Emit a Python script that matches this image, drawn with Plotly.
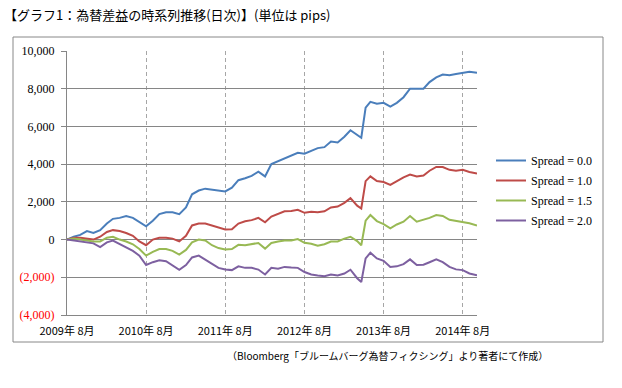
import plotly.graph_objects as go

dates = [
    "2009-08-01", "2009-09-01", "2009-10-01", "2009-11-01", "2009-12-01",
    "2010-01-01", "2010-02-01", "2010-03-01", "2010-04-01", "2010-05-01",
    "2010-06-01", "2010-07-01", "2010-08-01", "2010-09-01", "2010-10-01",
    "2010-11-01", "2010-12-01", "2011-01-01", "2011-02-01", "2011-03-01",
    "2011-04-01", "2011-05-01", "2011-06-01", "2011-07-01", "2011-08-01",
    "2011-09-01", "2011-10-01", "2011-11-01", "2011-12-01", "2012-01-01",
    "2012-02-01", "2012-03-01", "2012-04-01", "2012-05-01", "2012-06-01",
    "2012-07-01", "2012-08-01", "2012-09-01", "2012-10-01", "2012-11-01",
    "2012-12-01", "2013-01-01", "2013-02-01", "2013-03-01", "2013-04-01",
    "2013-04-20", "2013-05-10",
    "2013-06-01", "2013-07-01", "2013-08-01", "2013-09-01", "2013-10-01",
    "2013-11-01", "2013-12-01", "2014-01-01", "2014-02-01", "2014-03-01",
    "2014-04-01", "2014-05-01", "2014-06-01", "2014-07-01", "2014-08-01",
    "2014-09-01", "2014-10-06",
]

spread_00 = [0, 150, 250, 450, 350, 500, 850, 1100, 1150, 1250,
             1150, 950, 700, 1000, 1350, 1450, 1450, 1350, 1700, 2400,
             2600, 2700, 2650, 2600, 2550, 2750, 3150, 3250, 3380, 3600,
             3350, 4000, 4150, 4300, 4450, 4600, 4550, 4700, 4850, 4900,
             5200, 5150, 5450, 5800, 5550,
             5400, 7000,
             7300, 7200, 7250, 7050, 7250, 7550, 8000, 8000, 8000, 8350,
             8600, 8750, 8720, 8780, 8850, 8900, 8850]

spread_10 = [0, 100, 100, 50, 0, 150, 400, 500, 450, 350,
             200, -100, -300, 0, 100, 100, 50, -100, 200, 750,
             850, 850, 750, 650, 530, 550, 850, 970, 1030, 1150,
             920, 1220, 1350, 1500, 1520, 1580, 1420, 1480, 1450, 1500,
             1700, 1750, 1950, 2200, 1800,
             1650, 3100,
             3350, 3100, 3050, 2900, 3100, 3300, 3450, 3350, 3400, 3650,
             3850, 3850, 3700, 3650, 3700, 3580, 3500]

spread_15 = [0, 50, 0, -50, -100, -100, 100, 150, 0, -100,
             -250, -500, -850, -650, -500, -500, -600, -800, -550, -150,
             0, -50, -300, -450, -530, -500, -280, -300, -250, -180,
             -480, -180, -100, -50, -50, 30, -170, -220, -330, -250,
             -100, -100, 50, 150, -80,
             -300, 1000,
             1300, 980, 820, 600, 800, 950, 1250, 950, 1050, 1150,
             1300, 1250, 1050, 1000, 950, 870, 750]

spread_20 = [0, -50, -100, -150, -200, -400, -150, -50, -250, -400,
             -600, -850, -1350, -1200, -1100, -1150, -1350, -1600, -1350, -950,
             -850, -1050, -1300, -1500, -1590, -1620, -1420, -1500, -1500, -1590,
             -1850, -1500, -1550, -1450, -1480, -1500, -1720, -1850, -1900, -1940,
             -1850, -1900, -1800, -1600, -2050,
             -2250, -1000,
             -700, -1000, -1130, -1450, -1420, -1300, -1050, -1350, -1330, -1200,
             -1050, -1200, -1450, -1580, -1620, -1800, -1900]

series_names = ["Spread = 0.0", "Spread = 1.0", "Spread = 1.5", "Spread = 2.0"]
series_values = [spread_00, spread_10, spread_15, spread_20]
series_colors = ["#4A7EBB", "#BE4B48", "#98B954", "#7D60A0"]

y_tick_vals = [-4000, -2000, 0, 2000, 4000, 6000, 8000, 10000]
y_tick_text = ["<span style='color:#FF0000'>(4,000)</span>",
               "<span style='color:#FF0000'>(2,000)</span>",
               "0", "2,000", "4,000", "6,000", "8,000", "10,000"]

x_tick_vals = ["2009-08-01", "2010-08-01", "2011-08-01",
               "2012-08-01", "2013-08-01", "2014-08-01"]
x_tick_text = ["2009年 8月", "2010年 8月", "2011年 8月",
               "2012年 8月", "2013年 8月", "2014年 8月"]

title_text = "【グラフ1：為替差益の時系列推移(日次)】(単位は pips)"
source_text = "（Bloomberg「ブルームバーグ為替フィクシング」より著者にて作成）"

fig = go.Figure()
for name, vals, color in zip(series_names, series_values, series_colors):
    fig.add_trace(go.Scatter(
        x=dates, y=vals, mode="lines", name=name, legendgroup=name,
        line=dict(color=color, width=2),
    ))

jp_font = "Noto Sans CJK JP"
serif_font = "Liberation Serif, Times New Roman, DejaVu Serif, serif"

fig.update_layout(
    width=622, height=388,
    margin=dict(l=67, r=145, t=51, b=73),
    paper_bgcolor="white", plot_bgcolor="white",
    showlegend=True,
    legend=dict(
        x=(491 - 67) / 410, xanchor="left",
        y=(315 - 146) / 264, yanchor="top",
        font=dict(family=serif_font, size=12, color="black"),
        bgcolor="rgba(0,0,0,0)", tracegroupgap=1,
    ),
    xaxis=dict(
        type="date", range=["2009-08-01", "2014-10-06"],
        tickvals=x_tick_vals, ticktext=x_tick_text,
        tickfont=dict(family=jp_font, size=11, color="black"),
        showgrid=True, gridcolor="#A6A6A6", griddash="4px,3px", gridwidth=1,
        showline=True, linecolor="#868686", linewidth=1,
        ticks="", zeroline=False, ticklabelstandoff=6,
    ),
    yaxis=dict(
        range=[-4000, 10000],
        tickvals=y_tick_vals, ticktext=y_tick_text,
        tickfont=dict(family=serif_font, size=12, color="black"),
        showgrid=True, gridcolor="#868686", gridwidth=1,
        showline=True, linecolor="#868686", linewidth=1,
        ticks="outside", ticklen=5, tickcolor="#868686",
        ticklabelstandoff=4, zeroline=False,
    ),
    annotations=[
        dict(text=title_text, xref="paper", yref="paper",
             x=(2 - 67) / 410, y=(315 - 15) / 264,
             xanchor="left", yanchor="middle", showarrow=False,
             font=dict(family=jp_font, size=13, color="black")),
        dict(text=source_text, xref="paper", yref="paper",
             x=(387 - 67) / 410, y=(315 - 355) / 264,
             xanchor="center", yanchor="middle", showarrow=False,
             font=dict(family=jp_font, size=10, color="black")),
    ],
    shapes=[
        dict(type="rect", xref="paper", yref="paper",
             x0=(13 - 67) / 410, x1=(603 - 67) / 410,
             y0=(315 - 342) / 264, y1=(315 - 37) / 264,
             line=dict(color="#888888", width=1), fillcolor="rgba(0,0,0,0)",
             layer="below"),
    ],
)

fig.write_html("out.html", config={"displayModeBar": False},
               post_script="document.body.style.margin='0';")
